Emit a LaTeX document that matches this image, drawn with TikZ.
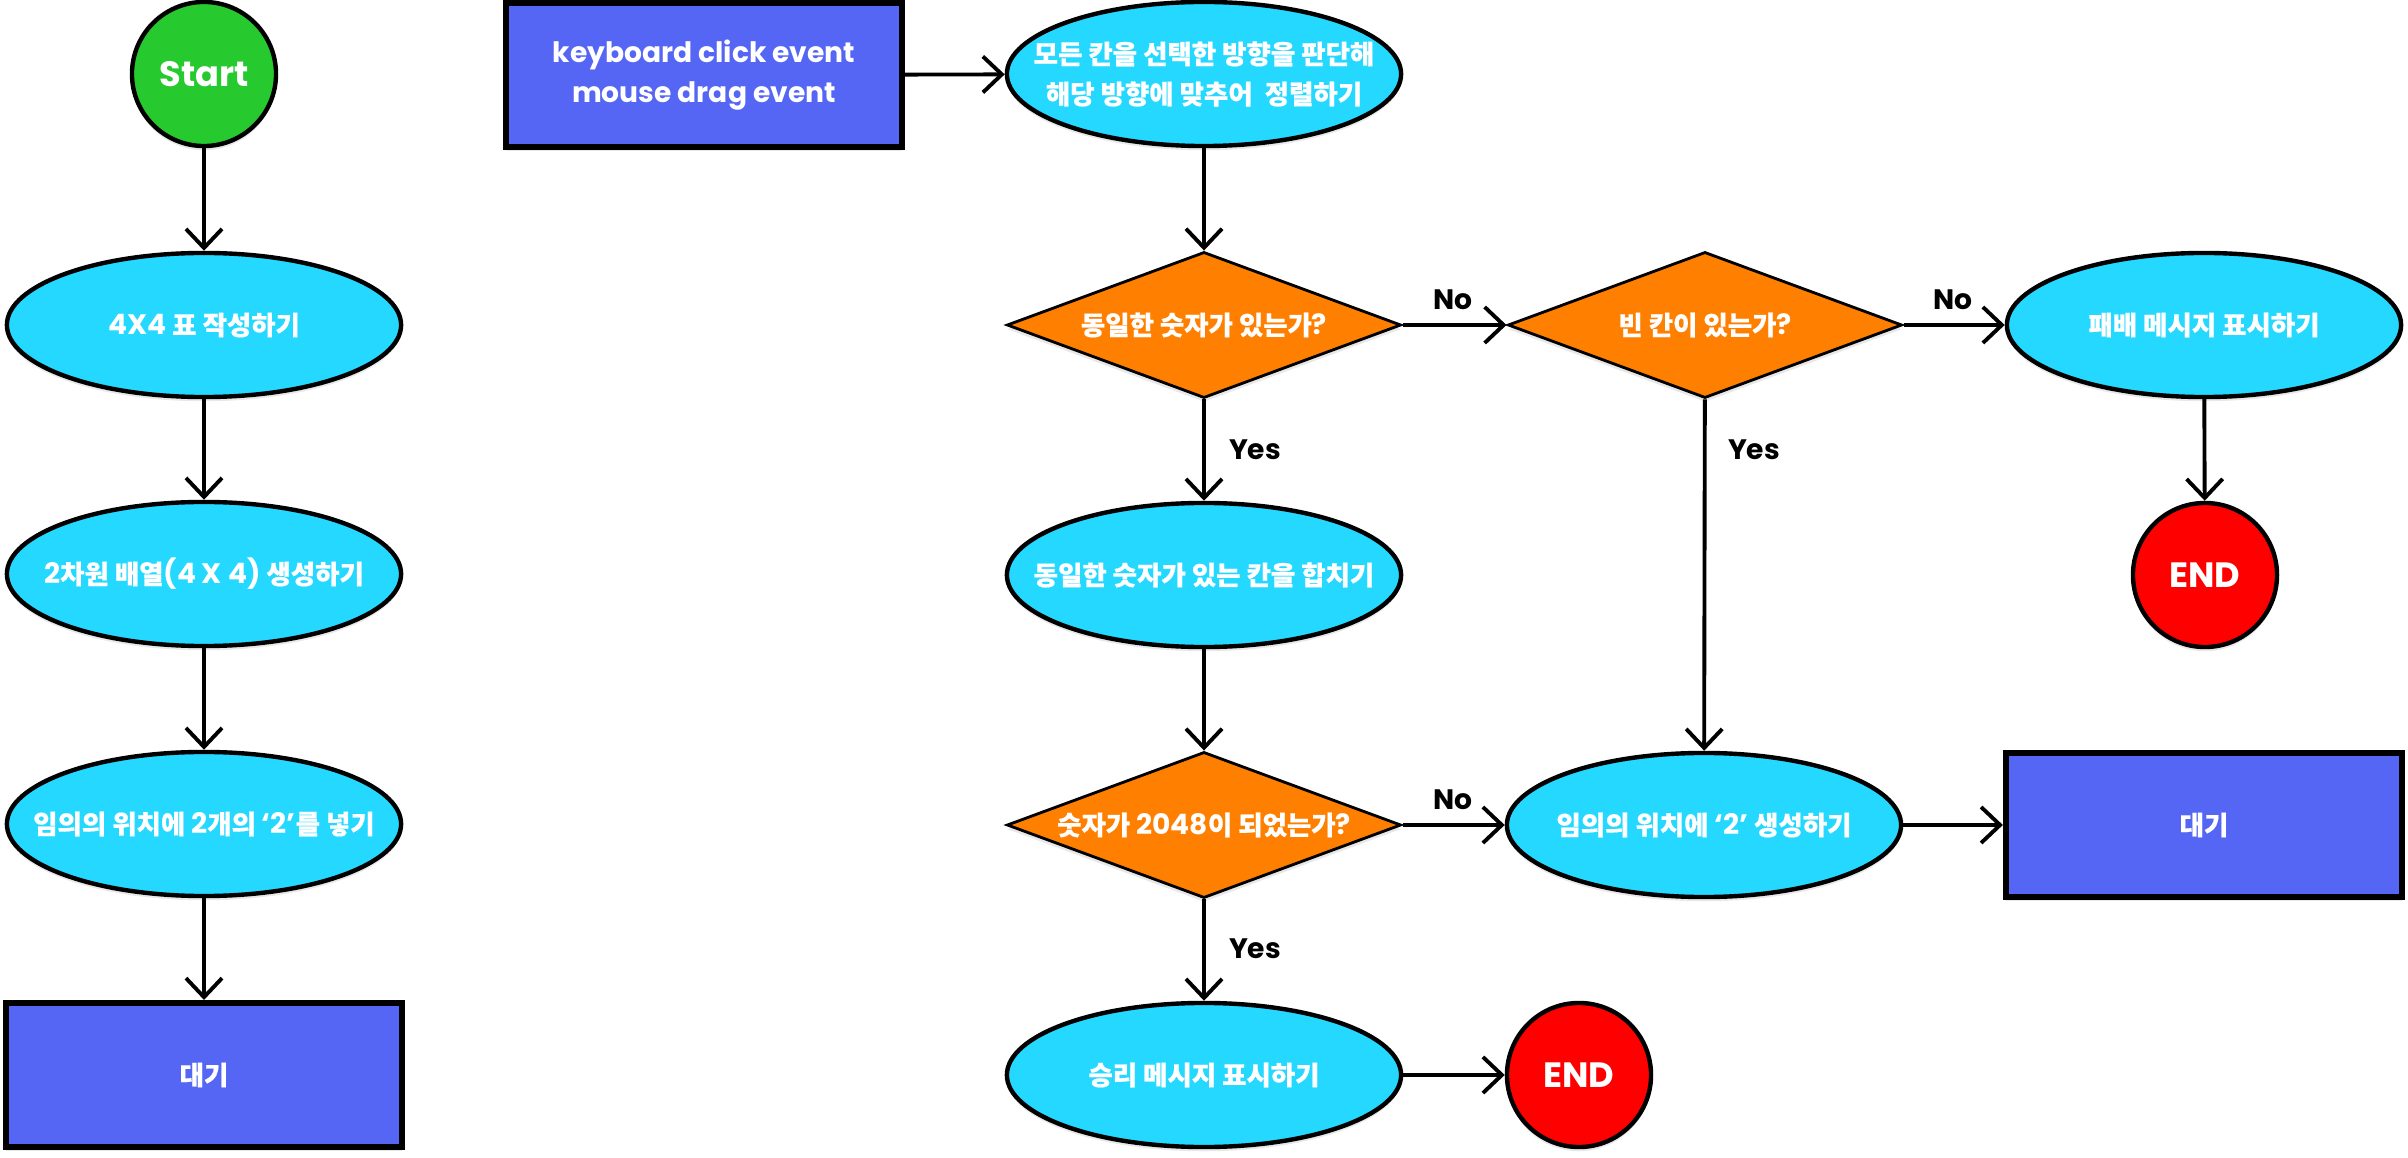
\documentclass[tikz,border=0pt]{standalone}
\usepackage{fontspec}
\setmainfont{Poppins}
\newfontfamily\krfont{Noto Sans CJK KR}[Scale=0.94, BoldFeatures={FakeBold=0.5}]
\usetikzlibrary{shapes.geometric,arrows.meta,shadows}
\newcommand\hg[1]{{\krfont #1}}
\definecolor{cgreen}{RGB}{38,201,46}
\definecolor{ccyan}{RGB}{36,216,255}
\definecolor{cblue}{RGB}{85,102,245}
\definecolor{corange}{RGB}{255,128,0}
\definecolor{cred}{RGB}{255,0,0}
\begin{document}
\begin{tikzpicture}[x=0.01cm,y=-0.01cm,
  every node/.style={font=\bfseries\fontsize{8}{11.4}\selectfont, text=white, align=center, inner sep=0pt},
  base/.style={draw=black, line width=1.25pt, drop shadow={shadow xshift=0pt, shadow yshift=-1.2pt, opacity=0.18}},
  oval/.style={base, ellipse, fill=ccyan, minimum width=3.94cm, minimum height=1.44cm},
  boxn/.style={base, rectangle, fill=cblue, line width=1.7pt, minimum width=3.96cm, minimum height=1.44cm},
  dec/.style={base, diamond, fill=corange, line width=0.8pt, minimum width=3.94cm, minimum height=1.46cm, aspect=2.7},
  term/.style={base, circle, minimum size=1.44cm, font=\bfseries\fontsize{10}{12}\selectfont},
  lbl/.style={text=black},
  arr/.style={draw=black, line width=1.1pt, -{Straight Barb[length=0.19cm,width=0.36cm]}}
]
\useasboundingbox (0,0) rectangle (2408,1158);
% left column
\node[term, fill=cgreen] (start) at (204,74) {Start};
\node[oval, label={center:4X4 \hg{표 작성하기}}] (e1) at (204,325) {};
\node[oval, label={center:2\hg{차원 배열}(4 X 4) \hg{생성하기}}] (e2) at (204,574) {};
\node[oval, label={center:\hg{임의의 위치에} 2\hg{개의} ‘2’\hg{를 넣기}}] (e3) at (204,824) {};
\node[boxn] (wl) at (204,1075) {\hg{대기}};
% right part
\node[boxn] (kbd) at (704,75) {keyboard click event\\mouse drag event};
\node[oval, label={center:\hg{모든 칸을 선택한 방향을 판단해}\\\hg{해당 방향에 맞추어\ \ 정렬하기}}] (mv) at (1204,74) {};
\node[dec] (d1) at (1204,325) {\hg{동일한 숫자가 있는가}?};
\node[dec] (d2) at (1705,325) {\hg{빈 칸이 있는가}?};
\node[oval, label={center:\hg{패배 메시지 표시하기}}] (lose) at (2204,325) {};
\node[term, fill=cred] (end1) at (2205,575) {END};
\node[oval, label={center:\hg{동일한 숫자가 있는 칸을 합치기}}] (merge) at (1204,575) {};
\node[dec] (d3) at (1204,825) {\hg{숫자가} 2048\hg{이 되었는가}?};
\node[oval, label={center:\hg{임의의 위치에} ‘2’ \hg{생성하기}}] (rnd) at (1704,825) {};
\node[boxn] (wr) at (2204,825) {\hg{대기}};
\node[oval, label={center:\hg{승리 메시지 표시하기}}] (win) at (1204,1075) {};
\node[term, fill=cred] (end2) at (1579,1075) {END};
% labels
\node[lbl] (no1) at (1453,300) {No};
\node[lbl] (no2) at (1953,300) {No};
\node[lbl] (no3) at (1453,800) {No};
\node[lbl] (yes1) at (1255,450) {Yes};
\node[lbl] (yes2) at (1754,450) {Yes};
\node[lbl] (yes3) at (1255,949) {Yes};
% connectors
\draw[arr] (start) -- (e1);
\draw[arr] (e1) -- (e2);
\draw[arr] (e2) -- (e3);
\draw[arr] (e3) -- (wl);
\draw[arr] (kbd) -- (mv);
\draw[arr] (mv) -- (d1);
\draw[arr] (d1) -- (d2);
\draw[arr] (d2) -- (lose);
\draw[arr] (d1) -- (merge);
\draw[arr] (d2) -- (rnd);
\draw[arr] (lose) -- (end1);
\draw[arr] (merge) -- (d3);
\draw[arr] (d3) -- (rnd);
\draw[arr] (rnd) -- (wr);
\draw[arr] (d3) -- (win);
\draw[arr] (win) -- (end2);
\end{tikzpicture}
\end{document}
